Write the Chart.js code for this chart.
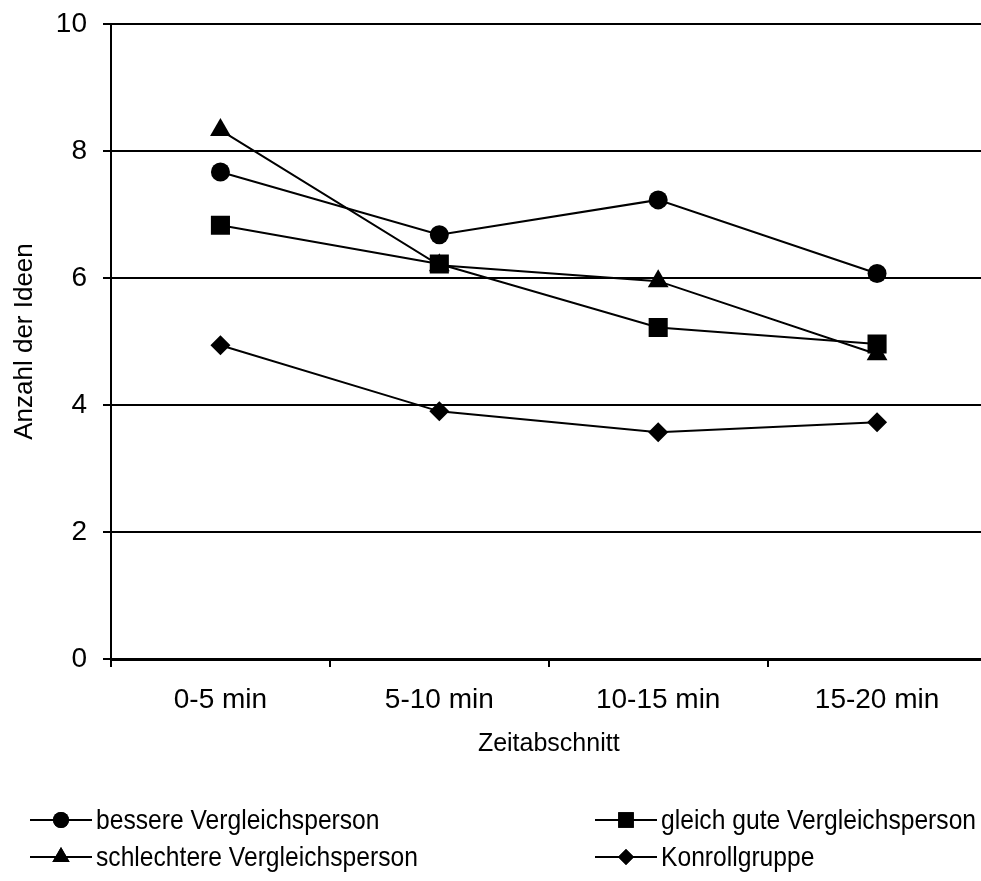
<!DOCTYPE html>
<html>
<head>
<meta charset="utf-8">
<script src="https://cdn.jsdelivr.net/npm/chart.js@4/dist/chart.umd.min.js"></script>
<style>
  html, body { margin: 0; padding: 0; background: #fff; overflow: hidden; }
  canvas { display: block; }
</style>
</head>
<body>
<canvas id="myChart" width="1000" height="881"></canvas>
<script>
// values
let categories = ['0-5 min', '5-10 min', '10-15 min', '15-20 min'];
let bessere = [7.67, 6.68, 7.23, 6.07];
let gleichGute = [6.83, 6.22, 5.22, 4.96];
let schlechtere = [8.33, 6.2, 5.95, 4.8];
let kontroll = [4.94, 3.9, 3.57, 3.73];

let seriesNames = ['bessere Vergleichsperson', 'gleich gute Vergleichsperson',
                   'schlechtere Vergleichsperson', 'Konrollgruppe'];
let yTicks = [0, 2, 4, 6, 8, 10];

let fontFamily = '"Liberation Sans", Arial, sans-serif';

function makeSet(label, data, style, radius) {
  return {
    label: label,
    data: data,
    borderColor: '#000',
    backgroundColor: '#000',
    borderWidth: 2,
    pointStyle: style,
    pointRadius: radius,
    pointBorderWidth: 0,
    pointBackgroundColor: '#000',
    tension: 0,
    fill: false
  };
}

// two-column legend like the original
let legendPlugin = {
  id: 'twoColLegend',
  afterDraw(chart) {
    let ctx = chart.ctx;
    let colX = [30, 595];
    let rowY = [820, 857];
    let sizes = {circle: 8, rect: 11, triangle: 10, rectRot: 8};
    chart.data.datasets.forEach((ds, i) => {
      let x0 = colX[i % 2];
      let y = rowY[Math.floor(i / 2)];
      ctx.save();
      ctx.strokeStyle = '#000';
      ctx.lineWidth = 2;
      ctx.beginPath();
      ctx.moveTo(x0, y);
      ctx.lineTo(x0 + 62, y);
      ctx.stroke();
      Chart.helpers.drawPoint(ctx, {
        pointStyle: ds.pointStyle,
        radius: sizes[ds.pointStyle],
        borderWidth: 0,
        rotation: 0
      }, x0 + 31, y);
      ctx.fillStyle = '#000';
      ctx.fill();
      ctx.restore();

      ctx.save();
      ctx.fillStyle = '#000';
      ctx.font = '28px ' + fontFamily;
      ctx.textBaseline = 'middle';
      ctx.translate(x0 + 66, y + 1);
      ctx.scale(0.88, 1);
      ctx.fillText(ds.label, 0, 0);
      ctx.restore();
    });
  }
};

let ctx = document.getElementById('myChart');
let myChart = new Chart(ctx, {
  type: 'line',
  data: {
    labels: categories,
    datasets: [
      makeSet(seriesNames[0], bessere, 'circle', 9.5),
      makeSet(seriesNames[1], gleichGute, 'rect', 13.5),
      makeSet(seriesNames[2], schlechtere, 'triangle', 12),
      makeSet(seriesNames[3], kontroll, 'rectRot', 10)
    ]
  },
  options: {
    responsive: false,
    animation: false,
    layout: { padding: { top: 24, right: 9, bottom: 122, left: 0 } },
    plugins: {
      legend: { display: false },
      tooltip: { enabled: false }
    },
    scales: {
      x: {
        offset: true,
        grid: {
          offset: true,
          drawOnChartArea: false,
          drawTicks: true,
          tickLength: 8,
          color: '#000',
          lineWidth: 2
        },
        border: { display: true, color: '#000', width: 3 },
        ticks: {
          color: '#000',
          padding: 16,
          font: { family: fontFamily, size: 28 }
        },
        title: {
          display: true,
          text: 'Zeitabschnitt',
          color: '#000',
          padding: { top: 0, bottom: 0 },
          font: { family: fontFamily, size: 25 }
        },
        afterFit(scale) {
          scale.height = 100;
          scale.paddingLeft = 0;
          scale.paddingRight = 0;
        }
      },
      y: {
        min: 0,
        max: 10,
        afterBuildTicks(scale) {
          scale.ticks = yTicks.map(v => ({ value: v }));
        },
        grid: {
          color: '#000',
          lineWidth: 2,
          drawTicks: true,
          tickLength: 8
        },
        border: { display: true, color: '#000', width: 2 },
        ticks: {
          color: '#000',
          padding: 16,
          font: { family: fontFamily, size: 28 }
        },
        title: {
          display: true,
          text: 'Anzahl der Ideen',
          color: '#000',
          padding: { top: 9, bottom: 0 },
          font: { family: fontFamily, size: 26 }
        },
        afterFit(scale) {
          scale.width = 111;
          scale.paddingTop = 0;
          scale.paddingBottom = 0;
        }
      }
    }
  },
  plugins: [legendPlugin]
});
</script>
</body>
</html>
